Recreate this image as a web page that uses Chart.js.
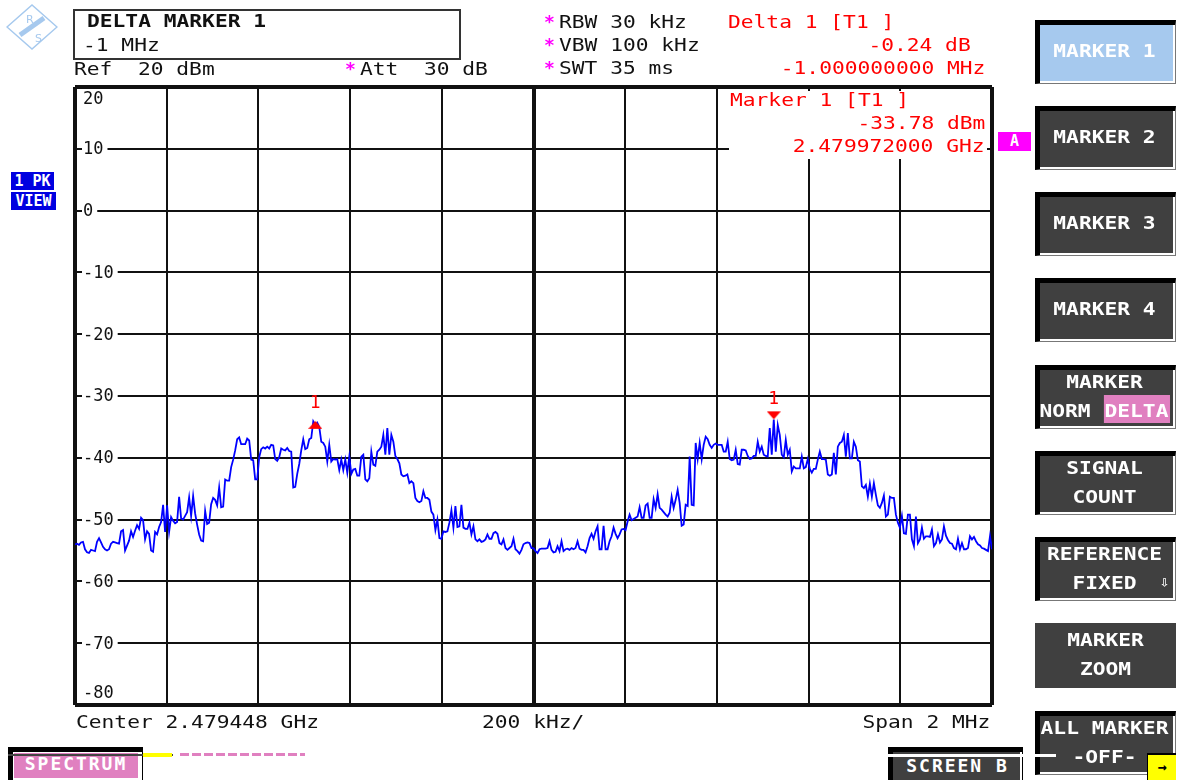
<!DOCTYPE html>
<html>
<head>
<meta charset="utf-8">
<title>Spectrum analyzer</title>
<script src="https://cdn.jsdelivr.net/npm/chart.js@4"></script>
<style>
  html, body { margin: 0; padding: 0; background: #fff; }
  #screen { position: relative; width: 1182px; height: 780px; overflow: hidden; background: #fff; }
  canvas { position: absolute; left: 0; top: 0; }
  /* the analyzer's bitmap font is wider than any installed mono face */
  .t, .r { position: absolute; font: 18px/20px "DejaVu Sans Mono", monospace; color: #111; white-space: pre; transform: scaleX(1.18); }
  .t { transform-origin: left center; }
  .r { text-align: right; transform-origin: right center; }
  .red { color: #f00; }
  .star { color: #f0f; font-weight: bold; transform: none; }
  .bold { font-weight: bold; }
  .btn { position: absolute; left: 1035px; width: 141px; height: 64px; box-sizing: border-box; background: #404040; color: #fff;
         border-style: solid; border-width: 5px 1px 1px 5px; border-color: #000 #777 #777 #000;
         box-shadow: inset -2px -2px 0 #fff; padding-right: 6px; font: bold 18px/29px "DejaVu Sans Mono", monospace; text-align: center; white-space: pre; }
  .btn .lbl { display: block; transform: scaleX(1.18); margin-top: -3px; }
  .btn.flat { border: 0; box-shadow: none; padding: 5px 0 0 0; }
  .btn.on { background: #a6c9ee; }
  .box { position: absolute; box-sizing: border-box; }
</style>
</head>
<body>
<div id="screen">
  <canvas id="trace" width="1182" height="780"></canvas>

  <svg class="box" style="left:6px;top:4px" width="52" height="46" viewBox="0 0 52 46">
    <polygon points="1,23 26,1 51,23 26,45" fill="#fff" stroke="#a6c9ee" stroke-width="1.5"/>
    <line x1="14" y1="31" x2="38" y2="14" stroke="#a6c9ee" stroke-width="5"/>
    <text x="20" y="19" font-family="DejaVu Sans" font-size="11" fill="#a6c9ee">R</text>
    <text x="29" y="38" font-family="DejaVu Sans" font-size="11" fill="#a6c9ee">S</text>
  </svg>

  <div class="box" style="left:73px;top:9px;width:388px;height:51px;border:2px solid #333"></div>
  <div class="t bold" style="left:87px;top:11px">DELTA MARKER 1</div>
  <div class="t" style="left:83px;top:35px">-1 MHz</div>
  <div class="t" style="left:74px;top:59px">Ref  20 dBm</div>
  <div class="t star" style="left:345px;top:59px">*</div>
  <div class="t" style="left:360px;top:59px">Att  30 dB</div>

  <div class="t star" style="left:544px;top:12px">*</div>
  <div class="t" style="left:559px;top:12px">RBW 30 kHz</div>
  <div class="t star" style="left:544px;top:35px">*</div>
  <div class="t" style="left:559px;top:35px">VBW 100 kHz</div>
  <div class="t star" style="left:544px;top:58px">*</div>
  <div class="t" style="left:559px;top:58px">SWT 35 ms</div>

  <div class="t red" style="left:728px;top:12px">Delta 1 [T1 ]</div>
  <div class="r red" style="right:211px;top:35px">-0.24 dB</div>
  <div class="r red" style="right:197px;top:58px">-1.000000000 MHz</div>

  <!-- marker readout sits on the grid and hides it -->
  <div class="box" style="left:729px;top:91px;width:258px;height:68px;background:#fff"></div>
  <div class="t red" style="left:730px;top:90px">Marker 1 [T1 ]</div>
  <div class="r red" style="right:197px;top:113px">-33.78 dBm</div>
  <div class="r red" style="right:197px;top:136px">2.479972000 GHz</div>

  <div class="box bold" style="left:998px;top:132px;width:33px;height:19px;background:#f0f;color:#fff;font:bold 15px/19px 'DejaVu Sans Mono';text-align:center">A</div>

  <div class="box" style="left:11px;top:172px;width:43px;height:18px;background:#0000e0;color:#fff;font:bold 15px/18px 'DejaVu Sans Mono';text-align:center;white-space:pre">1 PK</div>
  <div class="box" style="left:11px;top:192px;width:45px;height:18px;background:#0000e0;color:#fff;font:bold 15px/18px 'DejaVu Sans Mono';text-align:center">VIEW</div>

  <div class="t" style="left:76px;top:712px">Center 2.479448 GHz</div>
  <div class="t" style="left:482px;top:712px">200 kHz/</div>
  <div class="r" style="right:192px;top:712px">Span 2 MHz</div>

  <div class="btn on" style="top:20px;line-height:58px"><span class="lbl">MARKER 1</span></div>
  <div class="btn" style="top:106px;line-height:58px"><span class="lbl">MARKER 2</span></div>
  <div class="btn" style="top:192px;line-height:58px"><span class="lbl">MARKER 3</span></div>
  <div class="btn" style="top:278px;line-height:58px"><span class="lbl">MARKER 4</span></div>
  <div class="btn" style="top:365px"><span class="lbl">MARKER
NORM <span style="background:#e080c0;padding:5px 1px 2px">DELTA</span></span></div>
  <div class="btn" style="top:451px"><span class="lbl">SIGNAL
COUNT</span></div>
  <div class="btn" style="top:537px"><span class="lbl">REFERENCE
FIXED</span><span style="position:absolute;right:6px;top:30px;font-size:15px;line-height:20px">⇩</span></div>
  <div class="btn flat" style="top:623px;height:65px"><span class="lbl">MARKER
ZOOM</span></div>
  <div class="btn" style="top:711px"><span class="lbl">ALL MARKER
-OFF-</span></div>

  <div class="box" style="left:8px;top:747px;width:135px;height:33px;background:#fff;border:solid #000;border-width:5px 1px 0 5px"></div>
  <div class="box bold" style="left:14px;top:753px;width:124px;height:25px;background:#e080c0;color:#fff;font:bold 18px/22px 'DejaVu Sans Mono';letter-spacing:1.96px;text-align:center">SPECTRUM</div>
  <div class="box" style="left:8px;top:754px;width:165px;height:2px;background:#444"></div>
  <div class="box" style="left:143px;top:753px;width:29px;height:4px;background:#ff0"></div>
  <div class="box" style="left:180px;top:753px;width:125px;height:3px;background:repeating-linear-gradient(90deg,#e080c0 0 9px,#fff 9px 12px)"></div>
  <div class="box" style="left:888px;top:747px;width:135px;height:33px;background:#404040;border:solid #000;border-width:5px 1px 0 5px;box-shadow:inset -2px 0 0 #fff;color:#fff;font:bold 18px/28px 'DejaVu Sans Mono';letter-spacing:1.96px;text-align:center">SCREEN B</div>
  <div class="box" style="left:888px;top:754px;width:168px;height:3px;background:#fff"></div>
  <div class="box" style="left:1147px;top:753px;width:29px;height:27px;background:#ff0;border-top:2px solid #000;border-left:1px solid #000;color:#000;font:bold 15px/24px 'DejaVu Sans Mono';text-align:center">→</div>
</div>

<script>
// sweep span and grid
const spanKHz = [-1000, 1000];
const gridStepKHz = 200;
const levelRangeDb = [-80, 20];
const levelStepDb = 10;

// trace 1, one value per 2 screen pixels
const traceDb = [
  -54.0,-53.9,-54.1,-53.7,-53.6,-54.8,-55.3,-55.4,-54.9,-55.0,-55.1,-53.6,-53.0,-53.7,-54.4,-54.8,-55.0,-54.8,-53.9,-53.6,
  -53.7,-53.8,-53.9,-51.9,-51.7,-55.0,-54.2,-53.4,-51.9,-52.8,-51.8,-50.9,-51.5,-49.7,-50.1,-53.2,-51.9,-52.3,-55.0,-55.2,
  -52.0,-52.4,-51.2,-50.4,-47.6,-52.0,-47.7,-52.0,-49.6,-50.2,-50.6,-50.4,-46.3,-49.8,-50.0,-49.4,-48.8,-46.4,-49.4,-46.2,
  -49.0,-50.8,-52.4,-53.4,-53.5,-48.6,-50.7,-50.5,-47.5,-46.5,-46.8,-47.7,-44.8,-48.0,-47.9,-43.5,-43.7,-43.7,-41.5,-40.3,
  -38.8,-37.0,-36.7,-37.8,-37.8,-37.8,-36.9,-37.2,-40.3,-40.4,-43.5,-43.5,-39.9,-38.6,-38.3,-38.5,-38.2,-38.5,-37.9,-38.0,
  -40.2,-40.5,-39.9,-38.5,-38.7,-38.8,-38.4,-38.9,-39.0,-44.8,-44.7,-42.6,-41.0,-38.8,-37.0,-38.6,-38.4,-37.0,-36.8,-34.1,
  -34.7,-34.3,-35.0,-37.4,-37.6,-38.2,-40.6,-37.9,-40.6,-40.2,-40.3,-40.2,-42.0,-40.3,-42.0,-40.3,-42.4,-39.8,-42.6,-41.9,
  -41.8,-42.9,-42.9,-39.8,-39.5,-43.5,-43.8,-43.3,-39.0,-41.1,-41.3,-39.0,-38.7,-38.2,-36.3,-39.5,-35.2,-39.5,-36.3,-37.4,
  -39.7,-40.2,-40.9,-42.7,-43.0,-42.9,-42.7,-44.1,-43.8,-44.1,-46.5,-47.0,-47.2,-47.0,-45.4,-46.5,-46.5,-46.8,-48.7,-49.2,
  -51.7,-50.0,-53.0,-53.1,-51.9,-52.0,-51.9,-50.5,-48.5,-51.3,-47.8,-51.2,-51.1,-47.6,-51.3,-51.5,-51.5,-50.5,-52.4,-51.1,
  -53.2,-53.5,-53.2,-53.6,-53.5,-53.2,-52.4,-53.1,-53.1,-52.2,-52.0,-52.3,-53.8,-54.0,-53.2,-54.6,-54.9,-54.6,-54.3,-53.1,
  -54.8,-55.1,-55.5,-54.9,-54.0,-53.8,-53.7,-53.8,-54.6,-54.6,-55.1,-55.4,-54.8,-54.7,-54.7,-54.7,-54.6,-53.5,-54.9,-55.3,
  -55.2,-54.3,-55.1,-53.5,-55.1,-54.8,-54.7,-54.9,-54.6,-54.8,-54.6,-53.5,-54.7,-54.9,-54.9,-55.3,-54.3,-53.0,-52.3,-53.1,
  -51.9,-51.1,-54.8,-54.8,-51.0,-54.8,-54.8,-53.5,-52.7,-51.3,-52.3,-53.0,-52.4,-51.6,-51.5,-51.7,-50.3,-49.2,-50.1,-49.9,
  -49.7,-49.5,-48.0,-49.7,-49.7,-47.7,-47.4,-49.7,-49.7,-46.7,-48.1,-45.9,-48.1,-48.4,-48.8,-49.2,-49.5,-48.9,-46.3,-48.1,
  -46.8,-45.2,-47.3,-51.0,-50.8,-47.6,-47.8,-39.8,-47.6,-47.7,-37.6,-40.2,-37.6,-40.2,-37.9,-36.6,-37.0,-37.9,-38.4,-37.9,
  -37.7,-37.9,-37.9,-37.9,-39.0,-39.0,-37.4,-40.2,-40.4,-40.3,-38.7,-41.0,-41.1,-38.7,-38.7,-38.8,-39.7,-40.2,-40.1,-39.7,
  -39.7,-37.4,-39.0,-38.2,-39.5,-39.7,-39.8,-35.2,-39.5,-33.8,-39.0,-34.7,-36.3,-39.5,-39.9,-37.1,-39.5,-38.7,-42.2,-41.4,
  -41.7,-41.7,-41.7,-39.8,-41.7,-41.5,-40.2,-41.8,-42.4,-41.8,-41.8,-40.3,-39.0,-40.2,-40.2,-40.3,-42.7,-42.9,-42.7,-39.2,
  -42.7,-38.2,-37.6,-37.4,-36.3,-39.8,-36.0,-40.1,-40.1,-37.4,-38.2,-40.4,-40.6,-44.6,-44.9,-44.4,-46.3,-44.2,-46.3,-44.1,
  -46.0,-47.7,-48.1,-47.3,-46.1,-49.5,-49.2,-46.3,-46.5,-46.5,-49.2,-50.5,-51.3,-49.4,-52.2,-52.3,-49.2,-49.2,-53.2,-54.3,
  -49.5,-53.8,-53.2,-51.3,-53.1,-52.7,-52.7,-52.8,-51.6,-54.3,-53.8,-52.4,-53.7,-53.2,-51.1,-52.6,-53.3,-53.8,-53.9,-54.6,
  -54.8,-53.1,-54.8,-53.8,-54.8,-54.8,-54.6,-52.7,-53.2,-52.8,-53.5,-54.0,-54.2,-54.6,-54.7,-54.9,-55.1,-52.7,-54.8
];

// delta marker and marker 1, from the readout
const markerKHz = [-476, 524];
const markerDb = [-34.02, -33.78];
const markerLabels = ['1', '1'];
const markerLabelGapPx = [18, 20];

const binKHz = (spanKHz[1] - spanKHz[0]) / (traceDb.length - 1);
const tracePoints = traceDb.map((y, i) => ({ x: spanKHz[0] + i * binKHz, y: y }));

// marker glyph: apex on the centre of the image so it touches the trace
function markerGlyph(up) {
  const c = document.createElement('canvas');
  c.width = 14; c.height = 18;
  const g = c.getContext('2d');
  g.fillStyle = '#f00';
  g.beginPath();
  if (up) { g.moveTo(7, 9); g.lineTo(0, 17); g.lineTo(14, 17); }
  else { g.moveTo(7, 9); g.lineTo(0, 1); g.lineTo(14, 1); }
  g.closePath();
  g.fill();
  return c;
}

// the "1" over each marker
const markerNumbers = {
  id: 'markerNumbers',
  afterDatasetsDraw(chart) {
    const ctx = chart.ctx;
    ctx.save();
    ctx.font = '18px "DejaVu Sans Mono"';
    ctx.fillStyle = '#f00';
    ctx.textAlign = 'center';
    ctx.textBaseline = 'middle';
    markerKHz.forEach((f, i) => {
      ctx.fillText(markerLabels[i], chart.scales.x.getPixelForValue(f), chart.scales.y.getPixelForValue(markerDb[i]) - markerLabelGapPx[i]);
    });
    ctx.restore();
  }
};

const isRim = v => v === levelRangeDb[0] || v === levelRangeDb[1];

new Chart(document.getElementById('trace'), {
  type: 'line',
  data: {
    datasets: [
      {
        label: 'Trace 1',
        data: tracePoints,
        borderColor: '#0000ff',
        borderWidth: 1.8,
        pointRadius: 0,
        order: 2
      },
      {
        label: 'Markers',
        data: markerKHz.map((f, i) => ({ x: f, y: markerDb[i] })),
        showLine: false,
        pointStyle: [markerGlyph(true), markerGlyph(false)],
        order: 1
      }
    ]
  },
  options: {
    responsive: false,
    animation: false,
    layout: { padding: { left: 75, right: 190, top: 87, bottom: 75 } },
    plugins: { legend: { display: false }, tooltip: { enabled: false } },
    scales: {
      x: {
        type: 'linear',
        min: spanKHz[0],
        max: spanKHz[1],
        border: { display: false },
        ticks: { display: false, stepSize: gridStepKHz },
        grid: {
          drawTicks: false,
          color: '#111',
          lineWidth: c => (c.tick.value === 0 || Math.abs(c.tick.value) === 1000 ? 4 : 2)
        }
      },
      y: {
        min: levelRangeDb[0],
        max: levelRangeDb[1],
        border: { display: false },
        // labels are inside the frame, so the axis itself needs no room
        afterFit: s => { s.width = 0; },
        ticks: {
          stepSize: levelStepDb,
          mirror: true,
          padding: 8,
          labelOffset: 1,
          color: '#111',
          font: { family: '"DejaVu Sans Mono"', size: 17, lineHeight: '12px' },
          showLabelBackdrop: c => !isRim(c.tick.value),
          backdropColor: '#fff',
          backdropPadding: { left: 1, right: 4, top: 2, bottom: 2 },
          // top and bottom labels sit inside the frame, not on their lines
          callback: v => (v === levelRangeDb[1] ? ['', '', String(v)] : v === levelRangeDb[0] ? [String(v), '', ''] : String(v))
        },
        grid: {
          drawTicks: false,
          color: '#111',
          lineWidth: c => (isRim(c.tick.value) ? 4 : 2)
        }
      }
    }
  },
  plugins: [markerNumbers]
});
</script>
</body>
</html>
